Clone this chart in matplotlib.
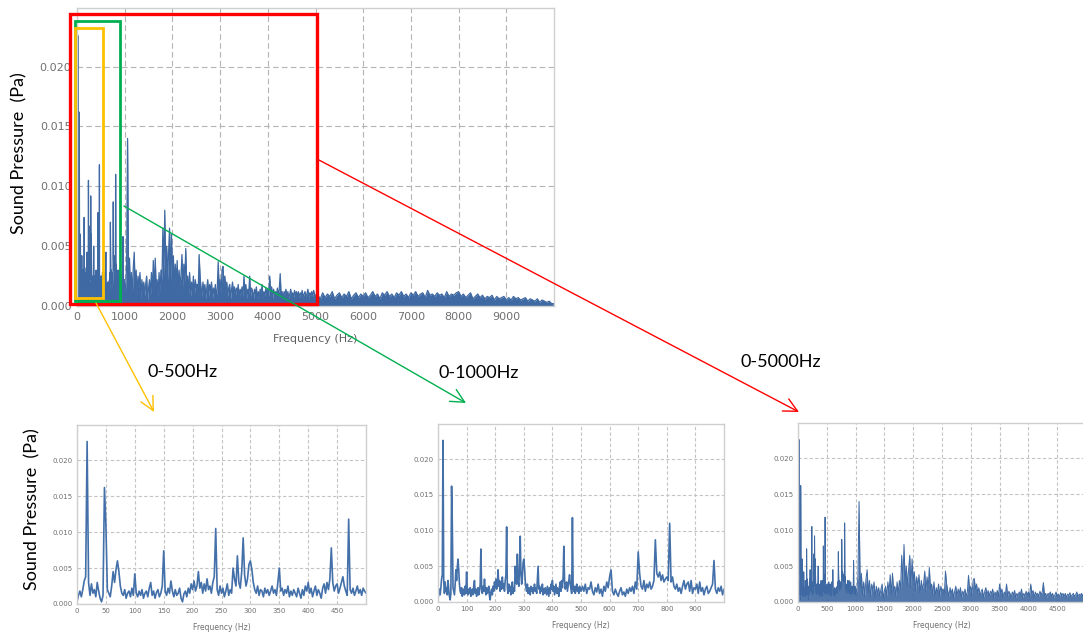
import numpy as np
import matplotlib
matplotlib.use("Agg")
import matplotlib.pyplot as plt
from matplotlib.patches import Rectangle, FancyArrowPatch
from matplotlib.transforms import blended_transform_factory

# ---------------- data (amplitudes in units of 1e-4 Pa) ----------------
# 0 - 500 Hz, 2.5 Hz steps
freq_a = np.arange(0, 500.01, 2.5)
amp_a = [
    3, 12, 18, 10,   20, 32, 38, 226,  30, 12, 28, 15,  20, 10, 30, 18,
    8, 3, 12, 162,   110, 20, 15, 10,  25, 45, 30, 48,  60, 45, 25, 15,
    12, 20, 8, 15,   18, 10, 22, 12,   42, 15, 10, 18,  12, 20, 8, 15,
    18, 10, 22, 30,  12, 18, 8, 16,    20, 10, 15, 25,  74, 18, 12, 22,
    15, 32, 18, 10,  20, 12, 15, 22,   8, 3, 14, 18,    10, 22, 15, 28,
    20, 32, 18, 25,  45, 22, 30, 15,   28, 18, 35, 20,  25, 15, 30, 38,
    105, 20, 12, 25, 15, 22, 10, 18,   28, 12, 20, 15,  50, 35, 25, 67,
    30, 22, 45, 92,  40, 25, 35, 55,   60, 48, 30, 20,  15, 25, 12, 20,
    18, 10, 22, 15,  20, 12, 18, 25,   15, 20, 12, 30,  50, 18, 22, 12,
    20, 15, 25, 10,  18, 12, 20, 15,   10, 22, 15, 8,   20, 12, 25, 18,
    30, 15, 22, 10,  18, 25, 12, 20,   15, 8, 22, 28,   15, 30, 20, 35,
    78, 30, 18, 25,  28, 15, 22, 30,   38, 25, 18, 12,  118, 20, 15, 22,
    12, 18, 25, 15,  20, 12, 22, 18,   15,
]
# 505 - 1000 Hz, 5 Hz steps
freq_b = np.arange(505, 1000.01, 5)
amp_b = [
    22, 15, 25, 12, 20, 18, 28, 15, 10,
    20, 14, 25, 12, 18, 8, 22, 15, 28, 20,
    35, 45, 15, 10, 18, 12, 8, 15, 20, 10,
    14, 8, 18, 12, 20, 15, 22, 12, 28, 18,
    70, 40, 22, 18, 30, 15, 25, 20, 28, 18,
    22, 30, 87, 40, 35, 42, 30, 38, 28, 32,
    35, 30, 110, 28, 35, 22, 18, 25, 15, 20,
    12, 22, 30, 18, 25, 28, 15, 30, 12, 20,
    18, 25, 12, 28, 15, 20, 10, 18, 22, 12,
    15, 20, 25, 58, 18, 12, 20, 15, 22, 10,
    18,
]
# 1020 - 5000 Hz, 20 Hz steps
freq_c = np.arange(1020, 5000.01, 20)
amp_c = [
    15, 35, 140, 20, 40,   10, 28, 8, 32, 45,    12, 30, 8, 25, 15,
    28, 6, 22, 12, 20,     8, 18, 25, 5, 15,     22, 8, 28, 12, 38,
    10, 40, 15, 22, 8,     28, 12, 30, 18, 65,   25, 80, 30, 50, 22,
    45, 65, 20, 60, 30,    42, 15, 35, 20, 38,   12, 30, 18, 25, 43,
    15, 35, 20, 48, 18,    25, 10, 28, 8, 20,    12, 25, 8, 22, 15,
    18, 10, 43, 25, 15,    8, 20, 12, 18, 6,     15, 22, 8, 18, 12,
    20, 6, 15, 10, 18,     8, 14, 37, 15, 22,    10, 30, 33, 18, 25,
    12, 20, 8, 15, 18,     6, 14, 20, 10, 16,    8, 15, 12, 18, 6,
    14, 10, 16, 8, 25,     12, 18, 6, 14, 10,    25, 8, 15, 12, 6,
    14, 10, 16, 6, 12,     8, 14, 10, 18, 6,     12, 8, 15, 10, 14,
    8, 25, 12, 16, 6,      14, 10, 12, 8, 15,    10, 14, 27, 8, 12,
    6, 12, 10, 14, 8,      12, 6, 10, 14, 8,     11, 7, 13, 9, 12,
    8, 12, 6, 11, 9,       13, 7, 10, 12, 8,     10, 14, 7, 11, 9,
    12, 8, 13, 10, 9,
]
# 5050 - 10000 Hz, 50 Hz steps
freq_d = np.arange(5050, 10000.01, 50)
amp_d = [
    9, 6, 11, 7, 10, 8, 12, 6, 9, 11,
    7, 10, 8, 12, 6, 9, 11, 7, 10, 8,
    11, 7, 9, 12, 8, 10, 6, 11, 9, 12,
    8, 10, 7, 11, 9, 12, 8, 10, 7, 11,
    9, 12, 8, 10, 11, 7, 13, 9, 10, 8,
    11, 9, 10, 7, 12, 8, 10, 9, 11, 12,
    8, 10, 7, 9, 11, 6, 8, 10, 7, 9,
    6, 8, 7, 9, 5, 8, 6, 7, 8, 5,
    7, 5, 8, 6, 7, 5, 6, 7, 4, 6,
    5, 4, 6, 3, 5, 4, 3, 4, 2, 2,
]

freq = np.concatenate([freq_a, freq_b, freq_c, freq_d])
amp = np.concatenate([amp_a, amp_b, amp_c, amp_d]) * 1e-4

y_ticks = [0.0, 0.005, 0.010, 0.015, 0.020]
main_xticks = [0, 1000, 2000, 3000, 4000, 5000, 6000, 7000, 8000, 9000]
zoom_ranges = [500, 1000, 5000]
zoom_xticks = [list(range(0, 500, 50)), list(range(0, 1000, 100)), list(range(0, 5000, 500))]
zoom_labels = ["0-500Hz", "0-1000Hz", "0-5000Hz"]
ylabel = "Sound Pressure  (Pa)"
xlabel = "Frequency (Hz)"

# ---------------- layout ----------------
W, H = 1083, 634
fig = plt.figure(figsize=(W / 100, H / 100), dpi=100)

def rect(l, t, r, b):
    return [l / W, 1 - b / H, (r - l) / W, (b - t) / H]

LINE = "#3f69a3"
RED, GREEN, ORANGE = "#ff0000", "#00b050", "#ffc000"
TXT = "Lato"

def style(ax, xmax, xticks, tsize, dash, pad, gcol):
    ax.set_xlim(0, xmax)
    ax.set_ylim(0, 0.0249)
    ax.set_xticks(xticks)
    ax.set_yticks(y_ticks)
    ax.set_yticklabels([f"{v:.3f}" for v in y_ticks])
    ax.grid(True, color=gcol, lw=0.8, ls=(0, dash))
    ax.set_axisbelow(True)
    for s in ax.spines.values():
        s.set_color("#cfcfcf")
        s.set_linewidth(1.0)
    ax.tick_params(length=0, labelsize=tsize, labelcolor="#707070", pad=pad)

# main chart
ax = fig.add_axes(rect(77, 8, 554, 306))
ax.fill_between(freq, 0, amp, color=LINE, lw=0)
ax.plot(freq, amp, color=LINE, lw=0.9)
style(ax, 10000, main_xticks, 8, (5, 3), 4, "#b4b4b4")
ax.set_xlabel(xlabel, fontsize=8, color="#606060", labelpad=9)

# boxes on main chart (x in data, y in axes fraction)
tr = blended_transform_factory(ax.transData, ax.transAxes)
boxes = [(-140, 5030, 0.007, 0.98, RED, 2.4),
         (-35, 900, 0.017, 0.957, GREEN, 2.0),
         (-35, 540, 0.027, 0.934, ORANGE, 2.0)]
for x0, x1, y0, y1, c, lw in boxes:
    ax.add_patch(Rectangle((x0, y0), x1 - x0, y1 - y0, transform=tr, fill=False,
                           edgecolor=c, lw=lw, clip_on=False, zorder=5))

fig.text(19 / W, 1 - 153 / H, ylabel, rotation=90, ha="center", va="center",
         fontsize=13, family=TXT)

# zoomed charts
zrects = [(77, 425, 366, 604), (438, 424, 724, 602), (798, 423, 1086, 602)]
for i, (r, xmax, xt) in enumerate(zip(zrects, zoom_ranges, zoom_xticks)):
    a = fig.add_axes(rect(*r))
    if xmax == 5000:
        a.fill_between(freq, 0, amp, color=LINE, lw=0, alpha=0.9)
        a.plot(freq, amp, color=LINE, lw=0.7)
    else:
        a.plot(freq, amp, color="#4470aa", lw=1.2)
    style(a, xmax, xt, 5, (3, 2), 3, "#c4c4c4")
    a.set_xlabel(xlabel, fontsize=5.5, color="#707070", labelpad=6)

fig.text(32 / W, 1 - 509 / H, ylabel, rotation=90, ha="center", va="center",
         fontsize=13, family=TXT)

# arrows and labels
arrows = [((96, 303), (154, 412), ORANGE),
          ((124, 206), (466, 403), GREEN),
          ((317, 159), (799, 412), RED)]
for (x0, y0), (x1, y1), c in arrows:
    fig.add_artist(FancyArrowPatch((x0 / W, 1 - y0 / H), (x1 / W, 1 - y1 / H),
                                   transform=fig.transFigure, arrowstyle="->,head_length=0.7,head_width=0.35",
                                   mutation_scale=14, color=c, lw=1.0, shrinkA=0, shrinkB=0))

label_pos = [(183, 372), (479, 373), (781, 362)]
for (x, y), t in zip(label_pos, zoom_labels):
    fig.text(x / W, 1 - y / H, t, ha="center", va="center", fontsize=13, family=TXT)

fig.savefig("out.png", dpi=100)
